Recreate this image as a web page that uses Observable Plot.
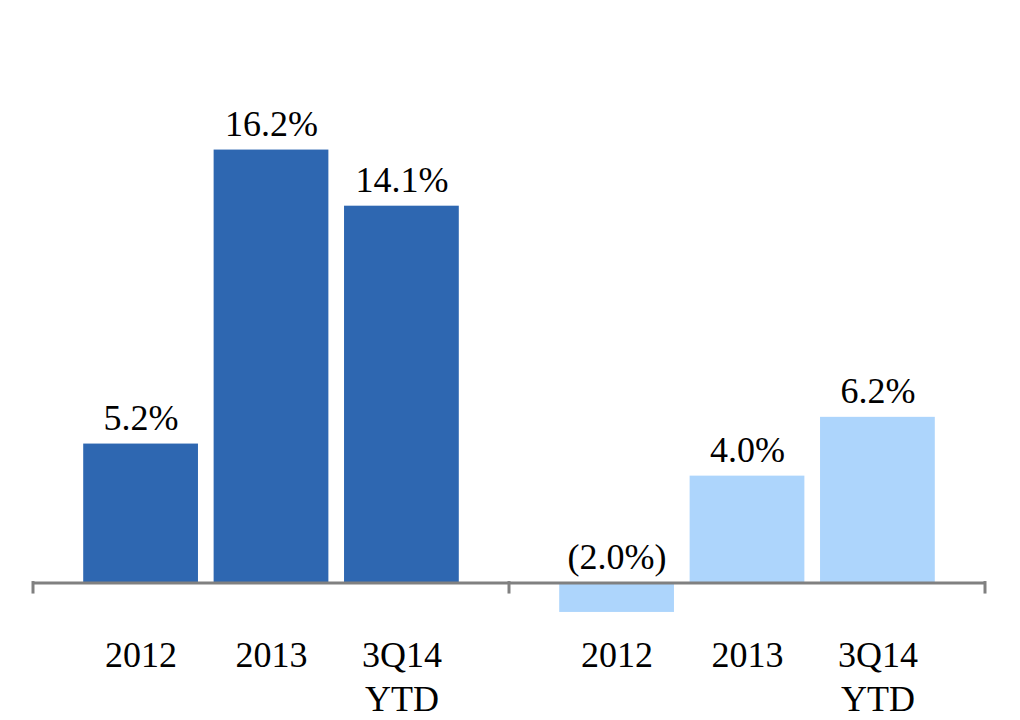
<!DOCTYPE html>
<html>
<head>
<meta charset="utf-8">
<script src="https://cdn.jsdelivr.net/npm/d3@7"></script>
<script src="https://cdn.jsdelivr.net/npm/@observablehq/plot@0.6"></script>
<style>
  html, body { margin: 0; padding: 0; background: #ffffff; }
  #chart { width: 1020px; height: 720px; }
</style>
</head>
<body>
<div id="chart"></div>
<script>
// ---- data ----
const groups = ["Group 1", "Group 2"];
const categories = ["2012", "2013", "3Q14\nYTD"];
const group1Values = [5.2, 16.2, 14.1];
const group2Values = [-1.1, 4.0, 6.2];
const group1Labels = ["5.2%", "16.2%", "14.1%"];
const group2Labels = ["(2.0%)", "4.0%", "6.2%"];
const groupColors = ["#2E67B1", "#ADD5FC"];

const rows = [
  ...categories.map((c, i) => ({group: groups[0], cat: c, value: group1Values[i], label: group1Labels[i]})),
  ...categories.map((c, i) => ({group: groups[1], cat: c, value: group2Values[i], label: group2Labels[i]}))
];

const plot = Plot.plot({
  width: 1020,
  height: 720,
  marginTop: 48,
  marginBottom: 84,
  marginLeft: 32,
  marginRight: 35,
  style: {fontFamily: "'Liberation Serif', 'Times New Roman', serif", fontSize: "36px", color: "#000", background: "#fff"},
  fx: {domain: groups, padding: 0, axis: null},
  x: {domain: categories, paddingInner: 0.12, paddingOuter: 0.385, round: false, axis: null},
  y: {domain: [-2, 20], axis: null},
  color: {domain: groups, range: groupColors},
  marks: [
    Plot.barY(rows, {fx: "group", x: "cat", y: "value", fill: "group"}),
    Plot.ruleY([0], {stroke: "#808080", strokeWidth: 3}),
    Plot.text(rows, {fx: "group", x: "cat", y: d => Math.max(d.value, 0), text: "label", dy: -26, fill: "#000"}),
    Plot.text(rows, {fx: "group", x: "cat", text: "cat", frameAnchor: "bottom", lineAnchor: "top", lineHeight: 1.22, dy: -1, fill: "#000"})
  ]
});

// axis tick marks at the panel edges, placed with Plot's own scales
const fx = plot.scale("fx");
const y0 = plot.scale("y").apply(0);
const edges = [];
groups.forEach((g, i) => {
  const left = fx.apply(g);
  if (i === 0) edges.push(left);
  edges.push(left + fx.bandwidth);
});
const svg = d3.select(plot);
svg.append("g")
  .selectAll("line")
  .data(edges)
  .join("line")
  .attr("x1", d => d).attr("x2", d => d)
  .attr("y1", y0 - 1.5).attr("y2", y0 + 11)
  .attr("stroke", "#808080").attr("stroke-width", 3);

document.getElementById("chart").appendChild(plot);
</script>
</body>
</html>
